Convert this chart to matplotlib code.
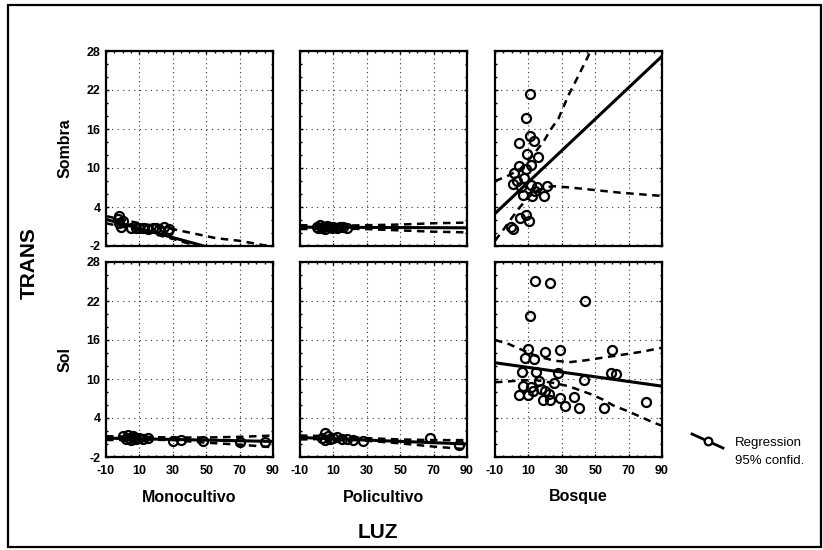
import matplotlib
matplotlib.use("Agg")

import matplotlib.pyplot as plt
from matplotlib.lines import Line2D
from matplotlib.patches import Rectangle

plt.rcParams["font.family"] = ["Liberation Sans", "DejaVu Sans"]
plt.rcParams["axes.unicode_minus"] = False

W, H = 823, 550

COLUMNS = ["Monocultivo", "Policultivo", "Bosque"]
ROWS = ["Sombra", "Sol"]
X_TICKS = [-10, 10, 30, 50, 70, 90]
Y_TICKS = [-2, 4, 10, 16, 22, 28]

# ---- Sombra / Monocultivo
mono_sombra_x = [-3, -2, -1, 0, -2, 5, 8, 10, 12, 15, 18, 20, 22, 25, 27, 28]
mono_sombra_y = [2.2, 2.6, 1.0, 1.9, 1.5, 0.8, 0.7, 0.8, 0.7, 0.6, 0.7, 0.7, 0.6, 0.9, 0.3, 0.6]
mono_sombra_fit_x = [-10, 90]
mono_sombra_fit_y = [2.1, -4.9]
mono_sombra_ci_x = [-10, 10, 30, 56, 70, 85, 90]
mono_sombra_hi = [2.6, 1.5, 0.6, -0.8, -1.2, -1.9, -2.1]
mono_sombra_lo = [1.5, 0.4, -0.9, -2.9, -4.0, -5.2, -5.6]

# ---- Sombra / Policultivo
poli_sombra_x = [0, 1, 2, 3, 4, 5, 6, 8, 9, 10, 12, 14, 16, 18]
poli_sombra_y = [1.0, 0.7, 1.2, 0.8, 1.0, 0.6, 1.1, 0.9, 0.7, 1.0, 0.8, 1.0, 0.9, 0.8]
poli_sombra_fit_x = [-10, 90]
poli_sombra_fit_y = [0.9, 0.8]
poli_sombra_ci_x = [-10, 10, 30, 50, 70, 90]
poli_sombra_hi = [1.2, 1.1, 1.2, 1.3, 1.5, 1.6]
poli_sombra_lo = [0.6, 0.7, 0.6, 0.4, 0.2, 0.1]

# ---- Sombra / Bosque
bosq_sombra_x = [11.0, 8.5, 11.0, 4.5, 13.4, 8.9, 15.8, 4.5, 11.4, 8.5, 1.5, 7.5, 0.5,
                 5.5, 11.4, 15.4, 21.4, 19.4, 6.5, 12.4, 5.1, 10.4, 8.5, 0.5, -0.5, 3.0, 14.0]
bosq_sombra_y = [21.4, 17.7, 14.9, 13.8, 14.2, 12.1, 11.7, 10.3, 10.5, 9.9, 9.2, 8.4, 7.5,
                 7.1, 7.4, 7.1, 7.2, 5.7, 5.8, 5.7, 2.3, 1.8, 2.8, 0.6, 1.0, 8.0, 6.5]
bosq_sombra_fit_x = [-10, 90]
bosq_sombra_fit_y = [3.0, 27.2]
bosq_sombra_hi_x = [-10, -3, 5, 12, 19, 23, 28, 34, 38, 45, 49]
bosq_sombra_hi = [8.0, 8.7, 9.8, 11.8, 14.0, 15.8, 17.6, 21.2, 23.2, 26.8, 29.0]
bosq_sombra_lo_x = [-10, -5, 0, 5, 10, 15, 20, 25, 35, 50, 65, 80, 90]
bosq_sombra_lo = [-1.2, 0.5, 2.3, 4.0, 5.5, 6.5, 7.0, 7.2, 7.0, 6.6, 6.2, 5.9, 5.7]

# ---- Sol / Monocultivo
mono_sol_x = [0, 2, 3, 4, 5, 6, 7, 8, 10, 12, 15, 30, 35, 48, 70, 85]
mono_sol_y = [1.2, 0.8, 1.4, 1.0, 0.6, 1.3, 0.9, 0.7, 1.0, 0.8, 0.9, 0.5, 0.6, 0.4, 0.3, 0.3]
mono_sol_fit_x = [-10, 90]
mono_sol_fit_y = [0.9, 0.4]
mono_sol_ci_x = [-10, 10, 30, 50, 70, 90]
mono_sol_hi = [1.2, 1.1, 1.0, 1.0, 1.1, 1.3]
mono_sol_lo = [0.6, 0.7, 0.6, 0.2, -0.1, -0.5]

# ---- Sol / Policultivo
poli_sol_x = [5, 3, 5, 7, 8, 10, 12, 15, 18, 22, 28, 68, 85]
poli_sol_y = [1.7, 1.0, 0.6, 1.2, 0.8, 0.9, 1.1, 0.8, 0.7, 0.6, 0.5, 0.9, -0.2]
poli_sol_fit_x = [-10, 90]
poli_sol_fit_y = [1.0, 0.0]
poli_sol_ci_x = [-10, 10, 30, 50, 70, 90]
poli_sol_hi = [1.3, 1.2, 0.9, 0.7, 0.6, 0.6]
poli_sol_lo = [0.7, 0.8, 0.5, 0.1, -0.4, -0.8]

# ---- Sol / Bosque
bosq_sol_x = [13.8, 23.1, 44.1, 10.8, 9.8, 7.8, 13.3, 19.7, 29.2, 59.9, 6.2, 14.3, 27.6,
              59.2, 62.2, 16.3, 43.5, 6.8, 11.7, 17.6, 25.5, 12.7, 19.7, 4.3, 9.8, 22.2,
              18.9, 23.1, 29.2, 37.4, 32.2, 40.5, 55.4, 80.7]
bosq_sol_y = [25.1, 24.7, 22.0, 19.7, 14.6, 13.3, 13.1, 14.2, 14.4, 14.4, 11.1, 11.1, 10.9,
              11.0, 10.7, 9.7, 9.9, 8.9, 8.7, 8.5, 9.4, 8.2, 8.1, 7.5, 7.5, 7.7,
              6.8, 6.8, 7.1, 7.3, 5.9, 5.6, 5.5, 6.5]
bosq_sol_fit_x = [-10, 90]
bosq_sol_fit_y = [12.5, 8.9]
bosq_sol_hi_x = [-10, -2, 6, 15, 26, 35, 45, 55, 68, 78, 90]
bosq_sol_hi = [16.0, 15.4, 14.5, 13.5, 12.8, 12.6, 12.9, 13.3, 13.8, 14.2, 14.8]
bosq_sol_lo_x = [-10, -3, 6, 15, 25, 34, 47, 55, 61, 69, 77, 84, 90]
bosq_sol_lo = [9.5, 9.6, 9.8, 9.8, 9.4, 8.9, 7.7, 6.8, 5.9, 5.1, 4.2, 3.4, 2.8]

PANELS = {
    (0, 0): (mono_sombra_x, mono_sombra_y, mono_sombra_fit_x, mono_sombra_fit_y,
             mono_sombra_ci_x, mono_sombra_hi, mono_sombra_ci_x, mono_sombra_lo),
    (0, 1): (poli_sombra_x, poli_sombra_y, poli_sombra_fit_x, poli_sombra_fit_y,
             poli_sombra_ci_x, poli_sombra_hi, poli_sombra_ci_x, poli_sombra_lo),
    (0, 2): (bosq_sombra_x, bosq_sombra_y, bosq_sombra_fit_x, bosq_sombra_fit_y,
             bosq_sombra_hi_x, bosq_sombra_hi, bosq_sombra_lo_x, bosq_sombra_lo),
    (1, 0): (mono_sol_x, mono_sol_y, mono_sol_fit_x, mono_sol_fit_y,
             mono_sol_ci_x, mono_sol_hi, mono_sol_ci_x, mono_sol_lo),
    (1, 1): (poli_sol_x, poli_sol_y, poli_sol_fit_x, poli_sol_fit_y,
             poli_sol_ci_x, poli_sol_hi, poli_sol_ci_x, poli_sol_lo),
    (1, 2): (bosq_sol_x, bosq_sol_y, bosq_sol_fit_x, bosq_sol_fit_y,
             bosq_sol_hi_x, bosq_sol_hi, bosq_sol_lo_x, bosq_sol_lo),
}

# panel geometry in pixels
COL_LEFT = [106, 300, 495]
COL_W = 167
ROW_TOP = [51, 262]
ROW_H = 195

fig = plt.figure(figsize=(W / 100, H / 100), dpi=100)
fig.patch.set_facecolor("white")

DASH = (0, (3.0, 2.2))

for (r, c), (px, py, fx, fy, hx, hy, lx, ly) in PANELS.items():
    ax = fig.add_axes([COL_LEFT[c] / W, 1 - (ROW_TOP[r] + ROW_H) / H, COL_W / W, ROW_H / H])
    ax.set_xlim(-10, 90)
    ax.set_ylim(-2, 28)
    ax.set_xticks(X_TICKS)
    ax.set_yticks(Y_TICKS)
    ax.set_xticks(range(-10, 91, 5), minor=True)
    ax.set_yticks(range(-2, 29, 2), minor=True)
    for v in X_TICKS[1:-1]:
        ax.axvline(v, color="#333333", lw=0.8, ls=(0, (1, 3)), zorder=0)
    for v in Y_TICKS[1:-1]:
        ax.axhline(v, color="#333333", lw=0.8, ls=(0, (1, 4)), zorder=0)
    ax.plot(hx, hy, color="black", lw=1.8, ls=DASH, zorder=2)
    ax.plot(lx, ly, color="black", lw=1.8, ls=DASH, zorder=2)
    ax.plot(fx, fy, color="black", lw=2.2, zorder=3)
    ax.plot(px, py, "o", ms=6.5, mfc="none", mec="black", mew=1.6, zorder=4)
    for s in ax.spines.values():
        s.set_linewidth(1.6)
    ax.tick_params(which="both", direction="in", top=True, right=True,
                   length=2.5, width=1.0, labelsize=9)
    ax.tick_params(which="minor", length=1.5)
    ax.tick_params(axis="x", pad=6)
    ax.tick_params(axis="y", pad=4)
    if c != 0:
        ax.set_yticklabels([])
    if r != 1:
        ax.set_xticklabels([])
    for lab in ax.get_xticklabels() + ax.get_yticklabels():
        lab.set_fontweight("bold")

for c, name in enumerate(COLUMNS):
    fig.text((COL_LEFT[c] + COL_W / 2) / W, 1 - 497 / H, name, ha="center", va="center",
             fontsize=11.5, fontweight="bold")
for r, name in enumerate(ROWS):
    fig.text(65 / W, 1 - (ROW_TOP[r] + ROW_H / 2) / H, name, ha="center", va="center",
             rotation=90, fontsize=11.5, fontweight="bold")

fig.text(378 / W, 1 - 532 / H, "LUZ", ha="center", va="center", fontsize=15, fontweight="bold")
fig.text(29 / W, 1 - 263 / H, "TRANS", ha="center", va="center", rotation=90,
         fontsize=15, fontweight="bold")

# legend
fig.add_artist(Line2D([692 / W, 723 / W], [1 - 434 / H, 1 - 448 / H], color="black", lw=2.0,
                      transform=fig.transFigure))
fig.add_artist(Line2D([708 / W], [1 - 441 / H], marker="o", ms=5.5, mfc="white", mec="black",
                      mew=1.6, transform=fig.transFigure))
fig.text(735 / W, 1 - 443 / H, "Regression", ha="left", va="center", fontsize=9.5)
fig.text(735 / W, 1 - 461 / H, "95% confid.", ha="left", va="center", fontsize=9.5)

# outer frame
fig.add_artist(Rectangle((8 / W, 1 - 547 / H), 813 / W, 542 / H, fill=False,
                         edgecolor="black", lw=1.6, transform=fig.transFigure))

fig.savefig("out.png", dpi=100, facecolor="white")
